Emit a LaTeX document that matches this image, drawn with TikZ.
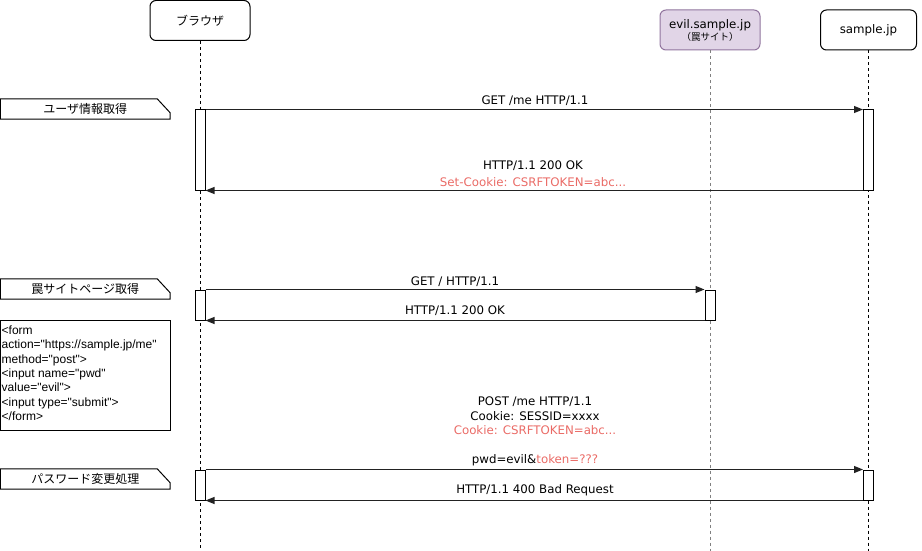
\documentclass[tikz,border=0pt]{standalone}
\usepackage{fontspec}
\setmainfont{DejaVu Sans}
\newfontfamily\jp{Noto Sans CJK JP}
\newfontfamily\helv{Liberation Sans}
\usetikzlibrary{arrows.meta}
\definecolor{evilfill}{HTML}{E1D5E7}
\definecolor{evildraw}{HTML}{9673A6}
\definecolor{tokred}{HTML}{EA6B66}
\definecolor{lnk}{HTML}{222222}
\begin{document}
\begin{tikzpicture}[x=1pt,y=-1pt,
  head/.style={draw, rounded corners=6pt, minimum width=100pt, minimum height=40pt,
    line width=1pt, fill=white, inner sep=0pt, align=center,
    font=\fontsize{11.8}{14}\selectfont},
  act/.style={draw, fill=white, minimum width=10pt, line width=1pt, inner sep=0pt},
  lifeline/.style={dash pattern=on 3pt off 3pt, line width=1pt},
  msg/.style={line width=1.1pt, draw=lnk, -{Triangle[length=9pt,width=7pt]}},
  lbl/.style={font=\fontsize{11.8}{14.4}\selectfont, align=center, inner sep=0pt},
  note/.style={minimum width=169.5pt, minimum height=20pt, inner sep=0pt,
    font=\jp\fontsize{12}{14}\selectfont},
  notebd/.style={line width=1pt, draw=black},
]
\useasboundingbox (0,0) rectangle (922,551);
\coordinate (bot) at (0,551);

% heads
\node[head, font=\jp\fontsize{12}{14}\selectfont] (br) at (200,20.5) {ブラウザ};
\node[head, fill=evilfill, draw=evildraw!80!gray] (ev) at (710,30)
  {evil.sample.jp\\[-2pt]{\jp\fontsize{9.5}{10}\selectfont （罠サイト）}};
\node[head, minimum width=96pt] (sp) at (868.5,30) {sample.jp};

% lifelines
\draw[lifeline] (br.south) -- (br.south |- bot);
\draw[lifeline, draw=gray] (ev.south) -- (ev.south |- bot);
\draw[lifeline] (sp.south) -- (sp.south |- bot);

% activations
\node[act, minimum height=80pt] (ba1) at (200,150) {};
\node[act, minimum height=80pt] (sa1) at (868.5,150) {};
\node[act, minimum height=30pt] (ba2) at (200,305) {};
\node[act, minimum height=30pt] (ea2) at (710,305) {};
\node[act, minimum height=30pt] (ba3) at (200,485) {};
\node[act, minimum height=30pt] (sa3) at (868.5,485) {};

% messages
\draw[msg] (ba1.north east) -- (sa1.north west);
\draw[msg] (sa1.south west) -- (ba1.south east);
\draw[msg] (ba2.north east) -- (ea2.north west);
\draw[msg] (ea2.south west) -- (ba2.south east);
\draw[msg] (ba3.north east) -- (sa3.north west);
\draw[msg] (sa3.south west) -- (ba3.south east);

% labels
\node[lbl] (m1) at (535,101) {GET /me HTTP/1.1};
\node[lbl] (r1) at (533,173.5) {HTTP/1.1 200 OK\\[2.3pt]\textcolor{tokred}{Set-Cookie: CSRFTOKEN=abc...}};
\node[lbl] (m2) at (455,282) {GET / HTTP/1.1};
\node[lbl] (r2) at (455,311) {HTTP/1.1 200 OK};
\node[lbl] (m3) at (535,431.5) {POST /me HTTP/1.1\\Cookie: SESSID=xxxx\\\textcolor{tokred}{Cookie: CSRFTOKEN=abc...}\\[14.4pt]pwd=evil\&\textcolor{tokred}{token=???}};
\node[lbl] (r3) at (535,490) {HTTP/1.1 400 Bad Request};

% notes
\node[note] (n1) at (85.25,109) {ユーザ情報取得};
\draw[notebd] (n1.south west) -- (n1.north west) -- ([xshift=-13pt]n1.north east)
  -- ([yshift=-14pt]n1.north east) -- (n1.south east) -- cycle;
\node[note] (n2) at (85.25,289) {罠サイトページ取得};
\draw[notebd] (n2.south west) -- (n2.north west) -- ([xshift=-13pt]n2.north east)
  -- ([yshift=-14pt]n2.north east) -- (n2.south east) -- cycle;
\node[note] (n3) at (85.25,479) {パスワード変更処理};
\draw[notebd] (n3.south west) -- (n3.north west) -- ([xshift=-13pt]n3.north east)
  -- ([yshift=-14pt]n3.north east) -- (n3.south east) -- cycle;

% form box
\node[draw, line width=1pt, minimum width=169.5pt, minimum height=110pt, inner sep=0pt] (form) at (85.25,375) {};
\node[anchor=north west, align=left, inner sep=0pt, font=\helv\fontsize{12}{14.4}\selectfont] (formtxt)
  at ([xshift=1.5pt,yshift=-6pt]form.north west)
  {<form\\action="https://sample.jp/me"\\method="post">\\<input name="pwd"\\value="evil">\\<input type="submit">\\</form>};
\end{tikzpicture}
\end{document}
